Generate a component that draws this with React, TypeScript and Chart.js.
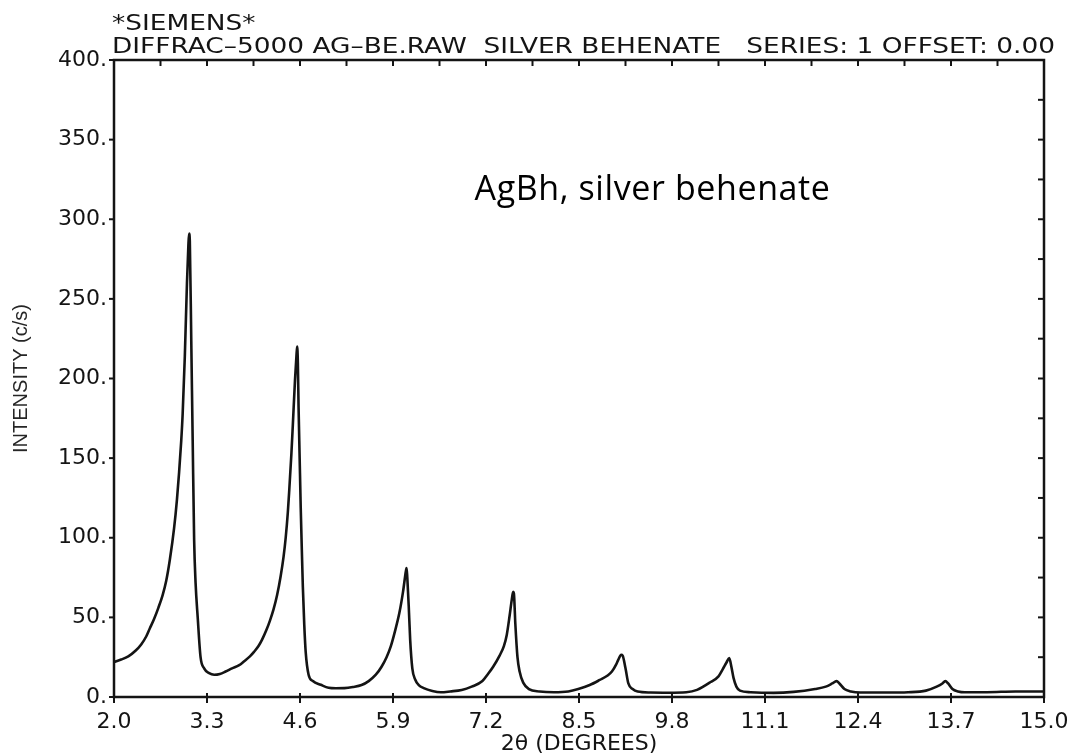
import React, { useEffect, useRef } from 'react';
import { Chart, registerables } from 'chart.js';

Chart.register(...registerables);

// 2θ positions (degrees)
const twoTheta = [
  2.0, 2.1, 2.2, 2.3, 2.38, 2.45, 2.5, 2.56, 2.62, 2.68, 2.73, 2.78, 2.84, 2.88, 2.91, 2.94, 2.96, 2.99, 3.02, 3.04,
  3.05, 3.06, 3.08, 3.1, 3.12, 3.14, 3.17, 3.21, 3.26, 3.33, 3.4, 3.48, 3.56, 3.65, 3.75, 3.82, 3.9, 3.96, 4.02, 4.07,
  4.13, 4.18, 4.23, 4.28, 4.33, 4.37, 4.4, 4.43, 4.45, 4.48, 4.5, 4.53, 4.55, 4.56, 4.57, 4.58, 4.6, 4.61, 4.63, 4.64,
  4.66, 4.68, 4.72, 4.78, 4.89, 5.0, 5.1, 5.22, 5.34, 5.46, 5.56, 5.66, 5.74, 5.81, 5.87, 5.92, 5.99, 6.04, 6.08, 6.09,
  6.1, 6.12, 6.14, 6.17, 6.21, 6.26, 6.33, 6.45, 6.57, 6.7, 6.86, 7.0, 7.15, 7.22, 7.3, 7.39, 7.45, 7.49, 7.53, 7.56,
  7.58, 7.59, 7.61, 7.64, 7.67, 7.72, 7.8, 7.95, 8.15, 8.35, 8.49, 8.65, 8.79, 8.9, 8.96, 9.02, 9.05, 9.09, 9.11, 9.15,
  9.19, 9.25, 9.32, 9.5, 9.75, 10.0, 10.15, 10.34, 10.45, 10.51, 10.56, 10.6, 10.63, 10.66, 10.7, 10.75, 10.9, 11.22, 11.5, 11.8,
  11.95, 12.04, 12.1, 12.14, 12.21, 12.3, 12.43, 12.8, 13.1, 13.35, 13.5, 13.58, 13.62, 13.66, 13.72, 13.8, 13.89, 14.2, 14.6, 15.0,
];

// Intensity (c/s) at each 2θ position
const intensity = [
  22, 23.5, 25.5, 29, 33, 38, 43, 49, 56, 64, 73, 86, 106, 124, 141, 161, 178, 214, 260, 284,
  291, 286, 224, 161, 99, 72, 50, 25, 18, 15, 14, 14.5, 16, 18, 20, 22.5, 25.5, 28.5, 32, 36,
  42, 48, 55, 64, 76, 88, 100, 116, 130, 153, 171, 199, 214, 220, 210, 182, 140, 119, 85, 69,
  45, 28, 14, 10, 7.7, 5.8, 5.5, 5.6, 6.3, 7.5, 10, 14, 19, 25, 32, 40, 53, 66, 79, 81,
  75, 57, 36, 18, 11, 7.5, 5.6, 3.8, 3, 3.5, 4.4, 6.5, 10, 14, 19, 26, 32, 39, 51, 61,
  66, 65, 46, 25, 16, 9, 5, 3.5, 3, 3.5, 5, 7.5, 10.7, 13.5, 16, 20.5, 23.5, 26.5, 26, 18,
  8.5, 5, 3.4, 2.8, 2.7, 3, 4.5, 9.4, 13, 17.5, 21.5, 24.5, 19, 12, 6.5, 4, 3, 2.6, 3.2, 5,
  6.5, 8.5, 10, 8.5, 5, 3.5, 2.8, 2.8, 3, 4, 6.5, 8.5, 10, 8.5, 5, 3.5, 3, 3, 3.5, 3.5,
];

const xTickValues = [2.0, 3.3, 4.6, 5.9, 7.2, 8.5, 9.8, 11.1, 12.4, 13.7, 15.0];
const xMinorTickValues = [2.65, 3.95, 5.25, 6.55, 7.85, 9.15, 10.45, 11.75, 13.05, 14.35];
const yTickValues = [0, 50, 100, 150, 200, 250, 300, 350, 400];
const yRightTickValues = [25, 50, 75, 100, 125, 150, 175, 200, 225, 250, 275, 300, 325, 350, 375];

const titleLines = ['*SIEMENS*', 'DIFFRAC\u20135000 AG\u2013BE.RAW  SILVER BEHENATE   SERIES: 1 OFFSET: 0.00'];
const annotationText = 'AgBh, silver behenate';
const annotationAt = { x: 7.04, y: 312 };
const xAxisTitle = '2\u03b8 (DEGREES)';
const yAxisTitle = 'INTENSITY (c/s)';

const INK = '#141414';

const framePlugin = {
  id: 'scanFrame',
  afterDraw(chart: any) {
    const { ctx, chartArea: a, scales } = chart;
    const xs = scales.x;
    const ys = scales.y;
    const seg = (x1: number, y1: number, x2: number, y2: number) => {
      ctx.beginPath();
      ctx.moveTo(x1, y1);
      ctx.lineTo(x2, y2);
      ctx.stroke();
    };
    ctx.save();
    ctx.strokeStyle = INK;
    ctx.lineWidth = 2.5;
    ctx.strokeRect(a.left, a.top, a.right - a.left, a.bottom - a.top);
    ctx.lineWidth = 2;
    [...xTickValues, ...xMinorTickValues].forEach((v) => {
      const px = xs.getPixelForValue(v);
      seg(px, a.top, px, a.top + 6);
    });
    xTickValues.forEach((v) => {
      const px = xs.getPixelForValue(v);
      seg(px, a.bottom - 4, px, a.bottom + 6);
    });
    yTickValues.forEach((v) => {
      const py = ys.getPixelForValue(v);
      seg(a.left - 5, py, a.left, py);
    });
    yRightTickValues.forEach((v) => {
      const py = ys.getPixelForValue(v);
      seg(a.right - 6, py, a.right, py);
    });

    // header lines (wide plotter-style lettering)
    ctx.fillStyle = INK;
    ctx.font = '21px "DejaVu Sans"';
    ctx.textBaseline = 'alphabetic';
    ctx.textAlign = 'left';
    const target = a.right + 11 - (a.left - 2);
    const sx = target / ctx.measureText(titleLines[1]).width;
    const baselines = [a.top - 30, a.top - 7];
    titleLines.forEach((t, i) => {
      ctx.save();
      ctx.translate(a.left - 2, baselines[i]);
      ctx.scale(sx, 1);
      ctx.fillText(t, 0, 0);
      ctx.restore();
    });

    // annotation
    ctx.font = '34px "Open Sans"';
    ctx.fillStyle = '#000';
    try {
      (ctx as any).letterSpacing = '0.6px';
    } catch (e) {
      /* ignore */
    }
    ctx.fillText(annotationText, xs.getPixelForValue(annotationAt.x), ys.getPixelForValue(annotationAt.y));
    ctx.restore();
  },
};

export default function App() {
  const ref = useRef<HTMLCanvasElement | null>(null);

  useEffect(() => {
    if (!ref.current) return;
    const points = twoTheta.map((x, i) => ({ x, y: intensity[i] }));
    const chart = new Chart(ref.current, {
      type: 'line',
      data: {
        datasets: [
          {
            data: points,
            borderColor: INK,
            borderWidth: 2.6,
            pointRadius: 0,
            cubicInterpolationMode: 'monotone',
            fill: false,
          },
        ],
      },
      options: {
        animation: false,
        responsive: true,
        maintainAspectRatio: false,
        layout: { padding: { left: 0, right: 32, top: 60, bottom: 0 } },
        plugins: { legend: { display: false }, tooltip: { enabled: false }, title: { display: false } },
        scales: {
          x: {
            type: 'linear',
            min: 2,
            max: 15,
            afterBuildTicks: (scale: any) => {
              scale.ticks = xTickValues.map((v) => ({ value: v }));
            },
            afterFit: (scale: any) => {
              scale.height = 58;
              scale.paddingLeft = 0;
              scale.paddingRight = 0;
            },
            grid: { display: false, drawTicks: false },
            border: { display: false },
            ticks: {
              autoSkip: false,
              maxRotation: 0,
              padding: 12,
              color: INK,
              font: { family: '"DejaVu Sans"', size: 22 },
              callback: (v: any) => Number(v).toFixed(1),
            },
            title: {
              display: true,
              text: xAxisTitle,
              color: INK,
              font: { family: '"DejaVu Sans"', size: 22, lineHeight: 1 },
              padding: { top: 0, bottom: 0 },
            },
          },
          y: {
            type: 'linear',
            min: 0,
            max: 400,
            afterBuildTicks: (scale: any) => {
              scale.ticks = yTickValues.map((v) => ({ value: v }));
            },
            afterFit: (scale: any) => {
              scale.width = 114;
              scale.paddingTop = 0;
              scale.paddingBottom = 0;
            },
            grid: { display: false, drawTicks: false },
            border: { display: false },
            ticks: {
              padding: 7,
              color: INK,
              font: { family: '"DejaVu Sans"', size: 22 },
              callback: (v: any) => `${v}.`,
            },
            title: {
              display: true,
              text: yAxisTitle,
              color: '#262626',
              font: { family: '"Liberation Sans"', size: 20 },
              padding: { top: 9, bottom: 0 },
            },
          },
        },
      },
      plugins: [framePlugin],
    });
    return () => chart.destroy();
  }, []);

  return (
    <div style={{ position: 'absolute', left: 0, top: 0, width: 1076, height: 755, background: '#fff' }}>
      <canvas ref={ref} />
    </div>
  );
}
